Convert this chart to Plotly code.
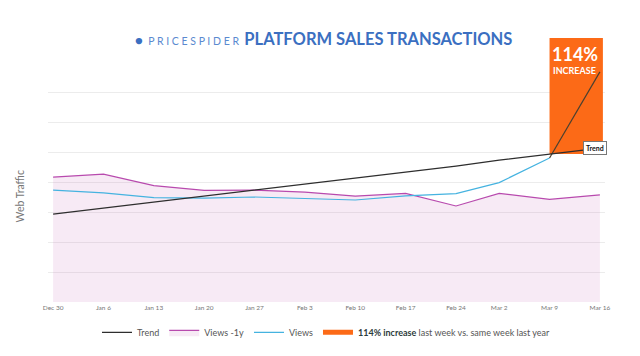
import plotly.graph_objects as go
import pandas as pd

# ---- data ----
dates = ["2018-12-30", "2019-01-06", "2019-01-13", "2019-01-20", "2019-01-27", "2019-02-03",
         "2019-02-10", "2019-02-17", "2019-02-24", "2019-03-02", "2019-03-09", "2019-03-16"]
tick_labels = ["Dec 30", "Jan 6", "Jan 13", "Jan 20", "Jan 27", "Feb 3",
               "Feb 10", "Feb 17", "Feb 24", "Mar 2", "Mar 9", "Mar 16"]
views_last_year = [4.16, 4.26, 3.88, 3.72, 3.73, 3.66, 3.53, 3.62, 3.20, 3.62, 3.42, 3.57]
views = [3.73, 3.64, 3.48, 3.46, 3.50, 3.44, 3.40, 3.54, 3.61, 3.98, 4.80, 7.67]
trend_start, trend_end = 2.93, 5.13
increase_label = "114%"
y_top = 8.8

x = pd.to_datetime(dates)
n = len(x)
trend = [trend_start + (trend_end - trend_start) * i / (n - 1) for i in range(n)]

BLUE = "#45b3e0"
MAGENTA = "#b84aae"
DARK = "#2e2e2e"
ORANGE = "#fc6a17"

fig = go.Figure()

# orange highlight box (last week)
fig.add_trace(go.Scatter(
    x=[x[-2], x[-1] + pd.Timedelta(hours=10), x[-1] + pd.Timedelta(hours=10), x[-2], x[-2]],
    y=[trend[-2], trend[-2], y_top, y_top, trend[-2]],
    fill="toself", fillcolor=ORANGE, line=dict(width=0), mode="lines",
    showlegend=False, hoverinfo="skip", legendrank=5))

# Views -1y with fill
fig.add_trace(go.Scatter(x=x, y=views_last_year, mode="lines", name="Views -1y",
                         line=dict(color=MAGENTA, width=1.2), fill="tozeroy",
                         fillcolor="rgba(190,90,175,0.13)", legendrank=2))
# Views
fig.add_trace(go.Scatter(x=x[:-1], y=views[:-1], mode="lines", name="Views",
                         line=dict(color=BLUE, width=1.2), legendrank=3))
# last Views segment drawn over orange
fig.add_trace(go.Scatter(x=x[-2:], y=views[-2:], mode="lines", showlegend=False,
                         line=dict(color="#4a4030", width=1.2), legendrank=6))
# Trend
fig.add_trace(go.Scatter(x=x, y=trend, mode="lines", name="Trend",
                         line=dict(color=DARK, width=1.3), legendrank=1))
# legend entry for the orange box
fig.add_trace(go.Scatter(x=[None], y=[None], mode="lines",
                         name="<b><span style='color:#2d3b3b'>114% increase</span></b> last week vs. same week last year",
                         line=dict(color=ORANGE, width=5), legendrank=4))

# the page body adds an 8px offset, so the figure is sized to fit the remaining window
fig.update_layout(
    width=632, height=348,
    margin=dict(l=40, r=35, t=30, b=54, autoexpand=False),
    paper_bgcolor="white", plot_bgcolor="white",
    font=dict(family="Lato, Noto Sans, sans-serif", color="#666"),
    showlegend=True,
    legend=dict(orientation="h", x=0.5, xanchor="center", y=-0.06, yanchor="top",
                font=dict(size=9, color="#555"), traceorder="normal",
                itemwidth=30, tracegroupgap=0),
    xaxis=dict(range=[x[0] - pd.Timedelta(hours=17), x[-1] + pd.Timedelta(hours=17)],
               tickvals=x, ticktext=tick_labels, tickfont=dict(size=6.5, color="#777"),
               showgrid=False, zeroline=False, showline=False, ticks=""),
    yaxis=dict(range=[0, y_top], tickvals=[0, 1, 2, 3, 4, 5, 6, 7], showticklabels=False,
               gridcolor="#ececec", gridwidth=1, zeroline=False, showline=False),
)

# y-axis title
fig.add_annotation(xref="paper", yref="paper", x=0, xshift=-20, xanchor="right",
                   y=0.40, yanchor="middle", textangle=-90, showarrow=False,
                   text="Web Traffic", font=dict(size=10.5, color="#777"))

# Title
fig.add_annotation(xref="paper", yref="paper", x=0.5, y=1.0, yshift=-1, yanchor="middle",
                   xshift=-3, showarrow=False,
                   text="<span style='font-size:13px;color:#3b6fc1'>●</span>"
                        "<span style='font-size:10.5px;color:#5a8ad0'>  P R I C E S P I D E R  </span>"
                        "<b><span style='font-size:16.5px;color:#3b6fc1'>PLATFORM SALES TRANSACTIONS</span></b>",
                   font=dict(family="Lato, sans-serif"))

# increase text
mid = x[-2] + (x[-1] - x[-2]) / 2
fig.add_annotation(x=mid, y=y_top, yref="y", yanchor="top", yshift=-3, showarrow=False,
                   text="<b>" + increase_label + "</b>",
                   font=dict(size=18, color="white", family="Lato, sans-serif"))
fig.add_annotation(x=mid, y=y_top, yref="y", yanchor="top", yshift=-25, showarrow=False,
                   text="<b>INCREASE</b>",
                   font=dict(size=9, color="white", family="Lato, sans-serif"))

# Trend label
fig.add_annotation(x=x[-1], y=trend[-1], showarrow=False, xshift=-5,
                   text="<b>Trend</b>", font=dict(size=7, color="#111"),
                   bgcolor="white", bordercolor="#777", borderwidth=1, borderpad=2)

fig.write_html("out.html")
